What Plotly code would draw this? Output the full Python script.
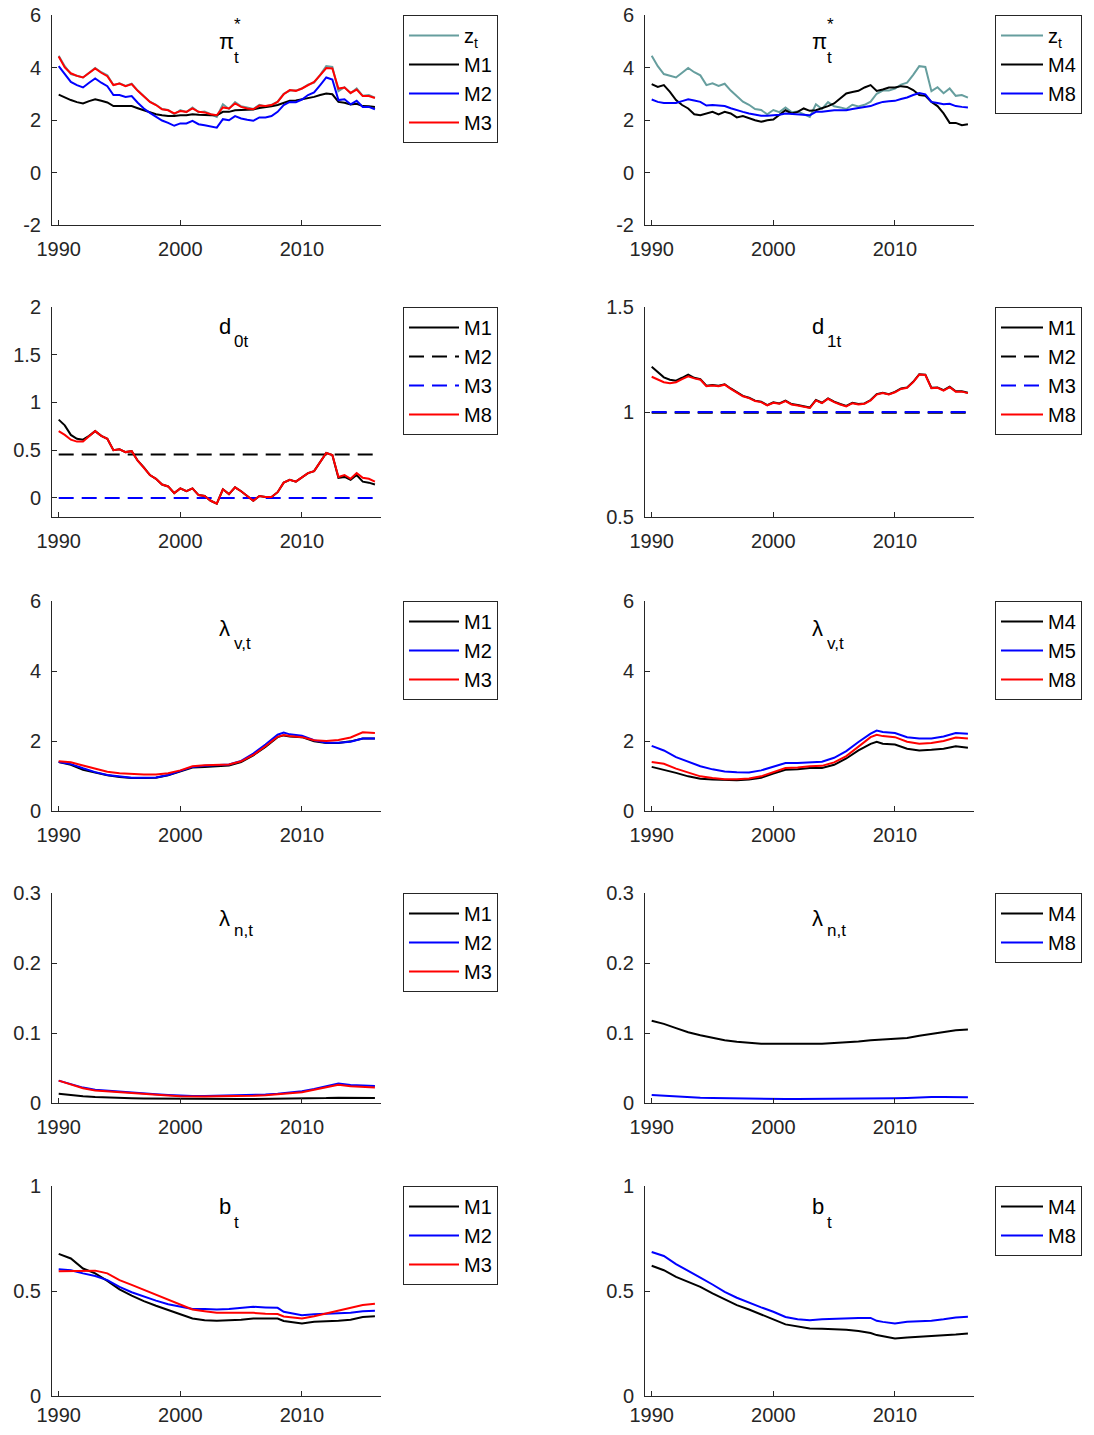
import plotly.graph_objects as go

# x grids (years)
half = [1990 + 0.5 * i for i in range(53)]
ann = list(range(1990, 2009)) + [2008.5] + list(range(2009, 2017))

# pi*_t  (half-yearly)
pi_z = [4.45, 4.05, 3.75, 3.68, 3.62, 3.80, 3.98, 3.82, 3.70, 3.33, 3.40, 3.30, 3.38, 3.12, 2.90, 2.70,
        2.58, 2.42, 2.38, 2.22, 2.38, 2.30, 2.48, 2.30, 2.32, 2.22, 2.12, 2.60, 2.42, 2.68, 2.52, 2.48,
        2.42, 2.58, 2.52, 2.58, 2.70, 3.00, 3.12, 3.12, 3.20, 3.35, 3.42, 3.72, 4.05, 4.02, 3.10, 3.25,
        3.02, 3.20, 2.92, 2.95, 2.85]
pi_m1 = [2.97, 2.86, 2.76, 2.68, 2.63, 2.72, 2.79, 2.73, 2.67, 2.53, 2.53, 2.52, 2.53, 2.45, 2.37, 2.29,
         2.22, 2.18, 2.15, 2.15, 2.18, 2.18, 2.22, 2.20, 2.18, 2.18, 2.18, 2.31, 2.31, 2.37, 2.38, 2.40,
         2.40, 2.46, 2.48, 2.52, 2.57, 2.66, 2.73, 2.74, 2.78, 2.82, 2.88, 2.95, 3.01, 2.98, 2.69, 2.66,
         2.59, 2.62, 2.53, 2.52, 2.50]
pi_m2 = [4.05, 3.77, 3.45, 3.33, 3.24, 3.42, 3.58, 3.42, 3.29, 2.95, 2.95, 2.88, 2.91, 2.66, 2.44, 2.27,
         2.12, 1.98, 1.89, 1.78, 1.87, 1.87, 1.97, 1.84, 1.80, 1.75, 1.71, 2.03, 1.99, 2.15, 2.06, 2.01,
         1.97, 2.10, 2.10, 2.15, 2.31, 2.57, 2.69, 2.68, 2.78, 2.95, 3.05, 3.33, 3.62, 3.54, 2.76, 2.79,
         2.60, 2.73, 2.50, 2.50, 2.41]
pi_m3 = [4.42, 4.00, 3.78, 3.68, 3.62, 3.80, 3.96, 3.80, 3.67, 3.33, 3.39, 3.29, 3.37, 3.11, 2.88, 2.69,
         2.57, 2.41, 2.37, 2.25, 2.34, 2.31, 2.44, 2.31, 2.29, 2.22, 2.18, 2.48, 2.44, 2.63, 2.50, 2.44,
         2.41, 2.55, 2.53, 2.57, 2.69, 2.98, 3.14, 3.11, 3.20, 3.33, 3.45, 3.71, 3.98, 3.96, 3.20, 3.24,
         3.03, 3.16, 2.91, 2.91, 2.84]
pi_m4 = [3.37, 3.26, 3.33, 3.07, 2.76, 2.57, 2.44, 2.22, 2.18, 2.25, 2.31, 2.21, 2.31, 2.25, 2.10, 2.15,
         2.06, 1.99, 1.93, 1.99, 2.02, 2.18, 2.37, 2.25, 2.31, 2.44, 2.35, 2.37, 2.44, 2.53, 2.63, 2.82,
         3.01, 3.07, 3.11, 3.24, 3.33, 3.11, 3.16, 3.24, 3.24, 3.29, 3.26, 3.14, 2.95, 2.92, 2.69, 2.53,
         2.25, 1.89, 1.89, 1.80, 1.84]
pi_m8 = [2.78, 2.69, 2.65, 2.65, 2.65, 2.72, 2.79, 2.74, 2.69, 2.55, 2.57, 2.55, 2.53, 2.45, 2.37, 2.31,
         2.25, 2.20, 2.16, 2.16, 2.18, 2.20, 2.25, 2.23, 2.22, 2.20, 2.18, 2.31, 2.31, 2.34, 2.37, 2.37,
         2.37, 2.42, 2.46, 2.49, 2.53, 2.62, 2.69, 2.71, 2.73, 2.80, 2.86, 2.95, 3.03, 2.98, 2.69, 2.65,
         2.60, 2.62, 2.53, 2.50, 2.48]

# d0t (half-yearly), M2 / M3 are constant
d0_m1 = [0.82, 0.76, 0.66, 0.62, 0.61, 0.65, 0.70, 0.65, 0.62, 0.50, 0.51, 0.48, 0.49, 0.39, 0.32, 0.24,
         0.20, 0.14, 0.12, 0.05, 0.10, 0.07, 0.10, 0.03, 0.02, -0.03, -0.06, 0.09, 0.04, 0.11, 0.07, 0.02,
         -0.03, 0.02, 0.01, 0.01, 0.06, 0.16, 0.19, 0.17, 0.22, 0.26, 0.28, 0.37, 0.47, 0.45, 0.21, 0.22,
         0.19, 0.24, 0.17, 0.16, 0.14]
d0_m8 = [0.70, 0.66, 0.61, 0.59, 0.59, 0.65, 0.70, 0.65, 0.62, 0.50, 0.51, 0.48, 0.49, 0.39, 0.32, 0.24,
         0.20, 0.14, 0.12, 0.05, 0.10, 0.07, 0.10, 0.03, 0.02, -0.03, -0.06, 0.09, 0.04, 0.11, 0.07, 0.02,
         -0.03, 0.02, 0.01, 0.01, 0.06, 0.16, 0.19, 0.17, 0.22, 0.26, 0.28, 0.37, 0.47, 0.45, 0.22, 0.24,
         0.20, 0.26, 0.21, 0.20, 0.17]
d0_m2 = 0.455
d0_m3 = 0.0

# d1t (half-yearly), M2 / M3 are constant
d1_m1 = [1.215, 1.190, 1.165, 1.154, 1.149, 1.163, 1.178, 1.163, 1.156, 1.125, 1.128, 1.125, 1.132, 1.112,
         1.096, 1.077, 1.068, 1.054, 1.049, 1.033, 1.046, 1.041, 1.054, 1.038, 1.033, 1.026, 1.021, 1.057,
         1.044, 1.065, 1.049, 1.038, 1.029, 1.044, 1.038, 1.041, 1.057, 1.085, 1.092, 1.085, 1.096, 1.112,
         1.117, 1.144, 1.180, 1.178, 1.115, 1.117, 1.104, 1.120, 1.099, 1.099, 1.092]
d1_m8 = [1.168, 1.153, 1.142, 1.137, 1.142, 1.157, 1.170, 1.160, 1.154, 1.123, 1.126, 1.123, 1.130, 1.110,
         1.094, 1.075, 1.066, 1.052, 1.047, 1.031, 1.044, 1.039, 1.052, 1.036, 1.031, 1.024, 1.019, 1.055,
         1.042, 1.063, 1.047, 1.036, 1.027, 1.042, 1.036, 1.039, 1.055, 1.083, 1.090, 1.083, 1.094, 1.110,
         1.115, 1.142, 1.178, 1.176, 1.113, 1.115, 1.102, 1.118, 1.097, 1.097, 1.090]
d1_m2 = 0.997
d1_m3 = 1.0

# lambda_v,t (annual + 2008.5)
lv_m1 = [1.40, 1.32, 1.18, 1.09, 1.02, 0.97, 0.94, 0.94, 0.95, 1.02, 1.13, 1.24, 1.26, 1.29, 1.30, 1.40,
         1.59, 1.83, 2.11, 2.16, 2.13, 2.11, 1.99, 1.94, 1.94, 1.99, 2.07, 2.07]
lv_m2 = [1.40, 1.34, 1.22, 1.11, 1.03, 0.98, 0.95, 0.95, 0.96, 1.03, 1.14, 1.26, 1.29, 1.32, 1.33, 1.43,
         1.64, 1.90, 2.18, 2.24, 2.19, 2.15, 2.02, 1.95, 1.95, 1.98, 2.07, 2.07]
lv_m3 = [1.42, 1.39, 1.30, 1.21, 1.12, 1.08, 1.05, 1.04, 1.04, 1.08, 1.16, 1.28, 1.31, 1.33, 1.33, 1.42,
         1.60, 1.85, 2.12, 2.17, 2.14, 2.11, 2.02, 2.00, 2.03, 2.10, 2.25, 2.23]
lv_m4 = [1.26, 1.18, 1.09, 0.99, 0.92, 0.90, 0.88, 0.88, 0.90, 0.95, 1.07, 1.18, 1.19, 1.23, 1.23, 1.32,
         1.50, 1.73, 1.92, 1.98, 1.92, 1.90, 1.78, 1.73, 1.75, 1.78, 1.85, 1.81]
lv_m5 = [1.86, 1.73, 1.54, 1.40, 1.28, 1.19, 1.13, 1.11, 1.10, 1.16, 1.26, 1.37, 1.37, 1.40, 1.41, 1.52,
         1.71, 1.97, 2.21, 2.30, 2.26, 2.23, 2.11, 2.07, 2.07, 2.13, 2.23, 2.21]
lv_m8 = [1.40, 1.35, 1.21, 1.09, 0.99, 0.94, 0.91, 0.91, 0.93, 0.99, 1.10, 1.23, 1.24, 1.28, 1.29, 1.39,
         1.57, 1.83, 2.11, 2.18, 2.14, 2.11, 1.98, 1.92, 1.94, 2.00, 2.10, 2.07]

# lambda_n,t
ln_m1 = [0.0133, 0.0112, 0.0095, 0.0085, 0.0076, 0.0071, 0.0067, 0.0064, 0.0062, 0.0060, 0.0057, 0.0057,
         0.0057, 0.0057, 0.0057, 0.0057, 0.0058, 0.0059, 0.0060, 0.0061, 0.0061, 0.0062, 0.0065, 0.0070,
         0.0076, 0.0074, 0.0072, 0.0071]
ln_m2 = [0.032, 0.027, 0.022, 0.019, 0.0176, 0.0157, 0.0148, 0.0138, 0.0124, 0.0114, 0.0105, 0.0100,
         0.0100, 0.0105, 0.0105, 0.0105, 0.0110, 0.0120, 0.0133, 0.0140, 0.0148, 0.0167, 0.0200, 0.0240,
         0.0280, 0.0257, 0.0248, 0.0243]
ln_m3 = [0.032, 0.026, 0.021, 0.018, 0.0167, 0.0150, 0.0140, 0.0130, 0.0117, 0.0107, 0.0098, 0.0093,
         0.0093, 0.0098, 0.0098, 0.0098, 0.0102, 0.0110, 0.0124, 0.0130, 0.0138, 0.0155, 0.0190, 0.0225,
         0.0262, 0.0238, 0.0225, 0.0220]
ln_m4 = [0.1176, 0.113, 0.107, 0.101, 0.0967, 0.093, 0.0895, 0.0876, 0.0857, 0.0848, 0.0848, 0.0845,
         0.0843, 0.0845, 0.0848, 0.0857, 0.0867, 0.0880, 0.0895, 0.0900, 0.0905, 0.0920, 0.0930, 0.0960,
         0.0990, 0.1020, 0.1040, 0.1050]
ln_m8 = [0.0114, 0.0102, 0.0090, 0.0083, 0.0076, 0.0071, 0.0067, 0.0063, 0.0060, 0.0058, 0.0057, 0.0057,
         0.0057, 0.0057, 0.0057, 0.0057, 0.0058, 0.0060, 0.0062, 0.0063, 0.0064, 0.0067, 0.0072, 0.0080,
         0.0086, 0.0084, 0.0082, 0.0081]

# b_t
b_m1 = [0.677, 0.655, 0.607, 0.584, 0.548, 0.508, 0.478, 0.452, 0.430, 0.408, 0.389, 0.369, 0.361, 0.358,
        0.360, 0.363, 0.369, 0.369, 0.369, 0.357, 0.353, 0.345, 0.353, 0.355, 0.358, 0.363, 0.376, 0.380]
b_m2 = [0.604, 0.599, 0.584, 0.571, 0.552, 0.520, 0.494, 0.473, 0.454, 0.437, 0.425, 0.414, 0.414, 0.412,
        0.414, 0.419, 0.425, 0.422, 0.420, 0.401, 0.396, 0.385, 0.389, 0.392, 0.392, 0.396, 0.404, 0.406]
b_m3 = [0.594, 0.594, 0.594, 0.597, 0.584, 0.552, 0.529, 0.505, 0.481, 0.457, 0.433, 0.412, 0.404, 0.396,
        0.396, 0.396, 0.396, 0.392, 0.390, 0.379, 0.376, 0.369, 0.380, 0.393, 0.404, 0.417, 0.433, 0.439]
b_m4 = [0.620, 0.599, 0.567, 0.544, 0.520, 0.489, 0.460, 0.433, 0.412, 0.390, 0.365, 0.341, 0.330, 0.322,
        0.320, 0.319, 0.315, 0.309, 0.300, 0.290, 0.285, 0.274, 0.279, 0.282, 0.284, 0.287, 0.293, 0.298]
b_m8 = [0.686, 0.667, 0.628, 0.594, 0.564, 0.531, 0.496, 0.468, 0.444, 0.422, 0.401, 0.376, 0.366, 0.361,
        0.365, 0.368, 0.372, 0.372, 0.372, 0.358, 0.353, 0.345, 0.353, 0.355, 0.358, 0.365, 0.374, 0.377]

TEAL = "#669e9e"
BLK = "black"
BLU = "#0000ff"
RED = "#ff0000"
DASH = "15px,8px"

# page body has an 8px margin, so the figure is drawn 8px in from the window edge
OFF = 8
W, H = 1094 - 2 * OFF, 1435 - 2 * OFF
FONT = "Liberation Sans, Arial, sans-serif"
AX = "#262626"


def px(p):
    return (p - OFF) / W


def py(p):
    return 1 - (p - OFF) / H


# panels: (x, series list, y range, tick values, tick text, title main, title sub, star)
panels = [
    (half, [("z<sub>t</sub>", pi_z, TEAL, None), ("M1", pi_m1, BLK, None), ("M2", pi_m2, BLU, None), ("M3", pi_m3, RED, None)],
     [-2, 6], [-2, 0, 2, 4, 6], ["-2", "0", "2", "4", "6"], "π", "t", True),
    (half, [("z<sub>t</sub>", pi_z, TEAL, None), ("M4", pi_m4, BLK, None), ("M8", pi_m8, BLU, None)],
     [-2, 6], [-2, 0, 2, 4, 6], ["-2", "0", "2", "4", "6"], "π", "t", True),
    (half, [("M1", d0_m1, BLK, None), ("M2", [d0_m2] * len(half), BLK, DASH), ("M3", [d0_m3] * len(half), BLU, DASH), ("M8", d0_m8, RED, None)],
     [-0.2, 2], [0, 0.5, 1, 1.5, 2], ["0", "0.5", "1", "1.5", "2"], "d", "0t", False),
    (half, [("M1", d1_m1, BLK, None), ("M2", [d1_m2] * len(half), BLK, DASH), ("M3", [d1_m3] * len(half), BLU, DASH), ("M8", d1_m8, RED, None)],
     [0.5, 1.5], [0.5, 1, 1.5], ["0.5", "1", "1.5"], "d", "1t", False),
    (ann, [("M1", lv_m1, BLK, None), ("M2", lv_m2, BLU, None), ("M3", lv_m3, RED, None)],
     [0, 6], [0, 2, 4, 6], ["0", "2", "4", "6"], "λ", "v,t", False),
    (ann, [("M4", lv_m4, BLK, None), ("M5", lv_m5, BLU, None), ("M8", lv_m8, RED, None)],
     [0, 6], [0, 2, 4, 6], ["0", "2", "4", "6"], "λ", "v,t", False),
    (ann, [("M1", ln_m1, BLK, None), ("M2", ln_m2, BLU, None), ("M3", ln_m3, RED, None)],
     [0, 0.3], [0, 0.1, 0.2, 0.3], ["0", "0.1", "0.2", "0.3"], "λ", "n,t", False),
    (ann, [("M4", ln_m4, BLK, None), ("M8", ln_m8, BLU, None)],
     [0, 0.3], [0, 0.1, 0.2, 0.3], ["0", "0.1", "0.2", "0.3"], "λ", "n,t", False),
    (ann, [("M1", b_m1, BLK, None), ("M2", b_m2, BLU, None), ("M3", b_m3, RED, None)],
     [0, 1], [0, 0.5, 1], ["0", "0.5", "1"], "b", "t", False),
    (ann, [("M4", b_m4, BLK, None), ("M8", b_m8, BLU, None)],
     [0, 1], [0, 0.5, 1], ["0", "0.5", "1"], "b", "t", False),
]

# window-pixel layout of the axes boxes
col_left = [52, 645]
col_w = 329
row_top = [15, 307, 601, 893, 1186]
row_h = 210
leg_x = [403, 995]
leg_itemw = [50, 42]
# title offsets (px) relative to axis top-left
title_main_dx, title_sub_dx = 165, 180
title_main_dy = [26, 19, 27, 25, 20]
title_sub_dy = [42, 34, 42, 37, 36]

fig = go.Figure()
layout = dict(width=W, height=H, margin=dict(l=0, r=0, t=0, b=0, autoexpand=False),
              paper_bgcolor="white", plot_bgcolor="white",
              font=dict(family=FONT, size=20, color=AX), annotations=[])

for i, (xs, series, yr, tv, tt, tmain, tsub, star) in enumerate(panels):
    r, c = divmod(i, 2)
    n = "" if i == 0 else str(i + 1)
    x0, x1 = col_left[c], col_left[c] + col_w
    y0, y1 = row_top[r], row_top[r] + row_h
    leg = "legend" + n
    for j, (name, ys, col, dash) in enumerate(series):
        fig.add_trace(go.Scatter(x=xs, y=ys, name=name, mode="lines",
                                 line=dict(color=col, width=2, dash=dash),
                                 xaxis="x" + n, yaxis="y" + n, legend=leg,
                                 legendgroup=f"g{i}_{j}"))
    layout["xaxis" + n] = dict(domain=[px(x0), px(x1)], anchor="y" + n, range=[1989.45, 2016.5],
                               tickvals=[1990, 2000, 2010], ticks="inside", ticklen=5, tickcolor=AX,
                               showline=True, linecolor=AX, linewidth=1, showgrid=False, zeroline=False,
                               ticklabelstandoff=1 if r == 4 else 6, ticklabeloverflow="allow",
                               tickfont=dict(size=20, color=AX))
    layout["yaxis" + n] = dict(domain=[py(y1), py(y0)], anchor="x" + n, range=yr,
                               tickvals=tv, ticktext=tt, ticks="inside", ticklen=5, tickcolor=AX,
                               showline=True, linecolor=AX, linewidth=1, showgrid=False, zeroline=False,
                               ticklabelstandoff=6, ticklabeloverflow="allow",
                               tickfont=dict(size=20, color=AX))
    layout[leg] = dict(x=px(leg_x[c]), y=py(y0), xanchor="left", yanchor="top",
                       bgcolor="white", bordercolor=AX, borderwidth=1,
                       font=dict(size=20, color="black", family=FONT),
                       tracegroupgap=0, traceorder="grouped", itemwidth=leg_itemw[c])
    # panel label
    layout["annotations"].append(dict(text=tmain, x=px(x0 + title_main_dx), y=py(y0 + title_main_dy[r]),
                                      xref="paper", yref="paper", xanchor="left", yanchor="middle",
                                      showarrow=False, font=dict(size=22, color="black", family=FONT)))
    layout["annotations"].append(dict(text=tsub, x=px(x0 + title_sub_dx), y=py(y0 + title_sub_dy[r]),
                                      xref="paper", yref="paper", xanchor="left", yanchor="middle",
                                      showarrow=False, font=dict(size=17, color="black", family=FONT)))
    if star:
        layout["annotations"].append(dict(text="*", x=px(x0 + title_sub_dx), y=py(y0 + 10),
                                          xref="paper", yref="paper", xanchor="left", yanchor="middle",
                                          showarrow=False, font=dict(size=17, color="black", family=FONT)))

fig.update_layout(**layout)
fig.write_html("out.html")
